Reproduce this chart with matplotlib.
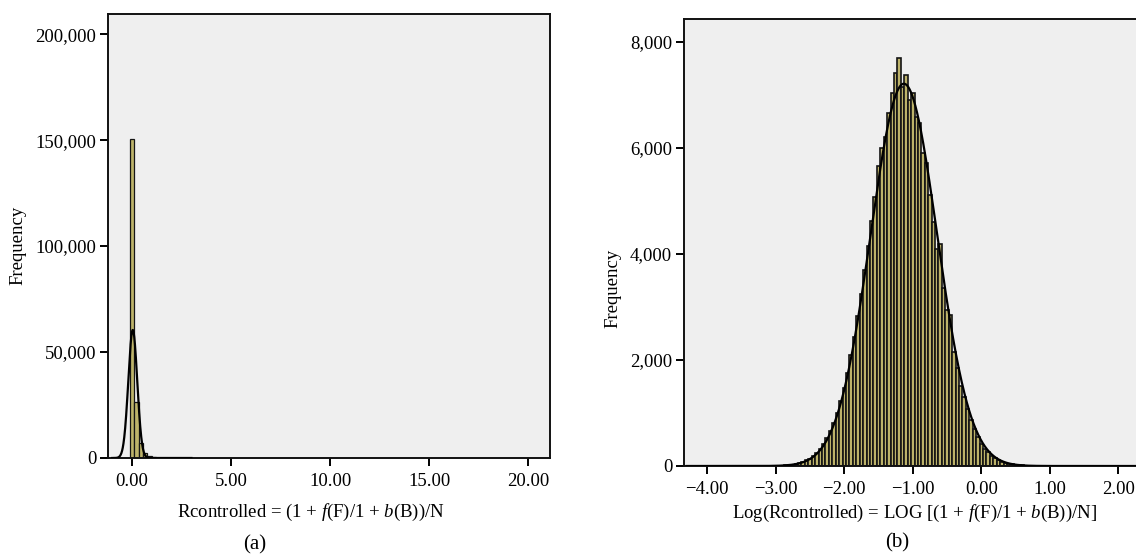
import numpy as np
import matplotlib
matplotlib.use('Agg')
import matplotlib.pyplot as plt
from matplotlib.ticker import FuncFormatter

plt.rcParams['font.family'] = ['Liberation Serif', 'DejaVu Serif']
plt.rcParams['mathtext.fontset'] = 'custom'
plt.rcParams['mathtext.rm'] = 'Liberation Serif'
plt.rcParams['mathtext.it'] = 'Liberation Serif:italic'

# ---- panel (a): Rcontrolled histogram ----
a_first_center = 0.01
a_bin_width = 0.22
a_counts = [150500, 26500, 7300, 2200, 800, 300, 120, 50, 20, 10]
# fitted normal curve (a)
a_mean, a_sd, a_peak = 0.04, 0.225, 60400

# ---- panel (b): log(Rcontrolled) histogram ----
b_first_center = -2.85
b_bin_width = 0.05
b_counts = [12, 20, 26, 40, 55, 76, 104, 140, 185, 245,
            318, 410, 520, 655, 815, 1000, 1225, 1480, 1760, 2085,
            2440, 2830, 3250, 3690, 4150, 4620, 5080, 5650, 6000, 6210,
            6660, 7040, 7420, 7700, 7150, 7380, 6900, 7040, 6590, 6470,
            5900, 5720, 5110, 4600, 4100, 4190, 3350, 2950, 2850, 2150,
            1850, 1510, 1300, 1080, 870, 700, 540, 415, 330, 255,
            195, 150, 110, 82, 60, 44, 32, 22, 15, 10,
            7, 5, 3, 2]
# fitted normal curve (b)
b_mean, b_sd, b_peak = -1.13, 0.485, 7210

a_xticks = [0, 5, 10, 15, 20]
a_yticks = [0, 50000, 100000, 150000, 200000]
b_xticks = [-4, -3, -2, -1, 0, 1, 2]
b_yticks = [0, 2000, 4000, 6000, 8000]

bar_face = '#bdb36a'
bar_edge = '#141414'
panel_bg = '#efefef'
fs = 13.5

W, H = 1136, 555
fig = plt.figure(figsize=(W / 100, H / 100), dpi=100)

ax1 = fig.add_axes([108 / W, 1 - 458 / H, 442 / W, 444 / H])
ax2 = fig.add_axes([684 / W, 1 - 466 / H, 456 / W, 447 / H])


def style(ax):
    ax.set_facecolor(panel_bg)
    for s in ax.spines.values():
        s.set_linewidth(1.4)
        s.set_color('#111111')
    ax.tick_params(direction='out', length=5.5, width=1.4, labelsize=fs,
                   pad=3, top=False, right=False)
    ax.tick_params(axis='x', pad=5)


def num_fmt(v, pos):
    return '{:,.0f}'.format(v)


def dec_fmt(v, pos):
    s = '{:.2f}'.format(abs(v))
    return ('\u2212' + s) if v < 0 else s


# panel (a)
style(ax1)
a_centers = a_first_center + a_bin_width * np.arange(len(a_counts))
ax1.bar(a_centers, a_counts, width=a_bin_width, color=bar_face,
        edgecolor=bar_edge, linewidth=0.9, zorder=2)
xa = np.linspace(-1.0, 3.0, 800)
ax1.plot(xa, a_peak * np.exp(-(xa - a_mean) ** 2 / (2 * a_sd ** 2)),
         color='black', lw=1.6, zorder=3)
ax1.set_xlim(-1.21, 21.1)
ax1.set_ylim(0, 209500)
ax1.set_xticks(a_xticks)
ax1.set_yticks(a_yticks)
ax1.xaxis.set_major_formatter(FuncFormatter(dec_fmt))
ax1.yaxis.set_major_formatter(FuncFormatter(num_fmt))

# panel (b)
style(ax2)
ax2.spines['right'].set_visible(False)
b_centers = b_first_center + b_bin_width * np.arange(len(b_counts))
ax2.bar(b_centers, b_counts, width=b_bin_width, color=bar_face,
        edgecolor=bar_edge, linewidth=1.2, zorder=2)
xb = np.linspace(-4.3, 2.3, 800)
ax2.plot(xb, b_peak * np.exp(-(xb - b_mean) ** 2 / (2 * b_sd ** 2)),
         color='black', lw=1.6, zorder=3)
ax2.set_xlim(-4.34, -4.34 + 456 / 68.5)
ax2.set_ylim(0, 8430)
ax2.set_xticks(b_xticks)
ax2.set_yticks(b_yticks)
ax2.xaxis.set_major_formatter(FuncFormatter(dec_fmt))
ax2.yaxis.set_major_formatter(FuncFormatter(num_fmt))

# labels
fig.text(18 / W, 1 - 245 / H, 'Frequency', rotation=90, fontsize=fs,
         ha='center', va='center')
fig.text(613 / W, 1 - 288 / H, 'Frequency', rotation=90, fontsize=fs,
         ha='center', va='center')
fig.text(311 / W, 1 - 512 / H,
         r'Rcontrolled = (1 + $\mathit{f}$(F)/1 + $\mathit{b}$(B))/N',
         fontsize=fs, ha='center', va='center')
fig.text(915 / W, 1 - 513 / H,
         r'Log(Rcontrolled) = LOG [(1 + $\mathit{f}$(F)/1 + $\mathit{b}$(B))/N]',
         fontsize=fs, ha='center', va='center')
fig.text(255 / W, 1 - 545 / H, '(a)', fontsize=15, ha='center', va='center')
fig.text(897 / W, 1 - 543 / H, '(b)', fontsize=15, ha='center', va='center')

fig.savefig('out.png', dpi=100, facecolor='white')
